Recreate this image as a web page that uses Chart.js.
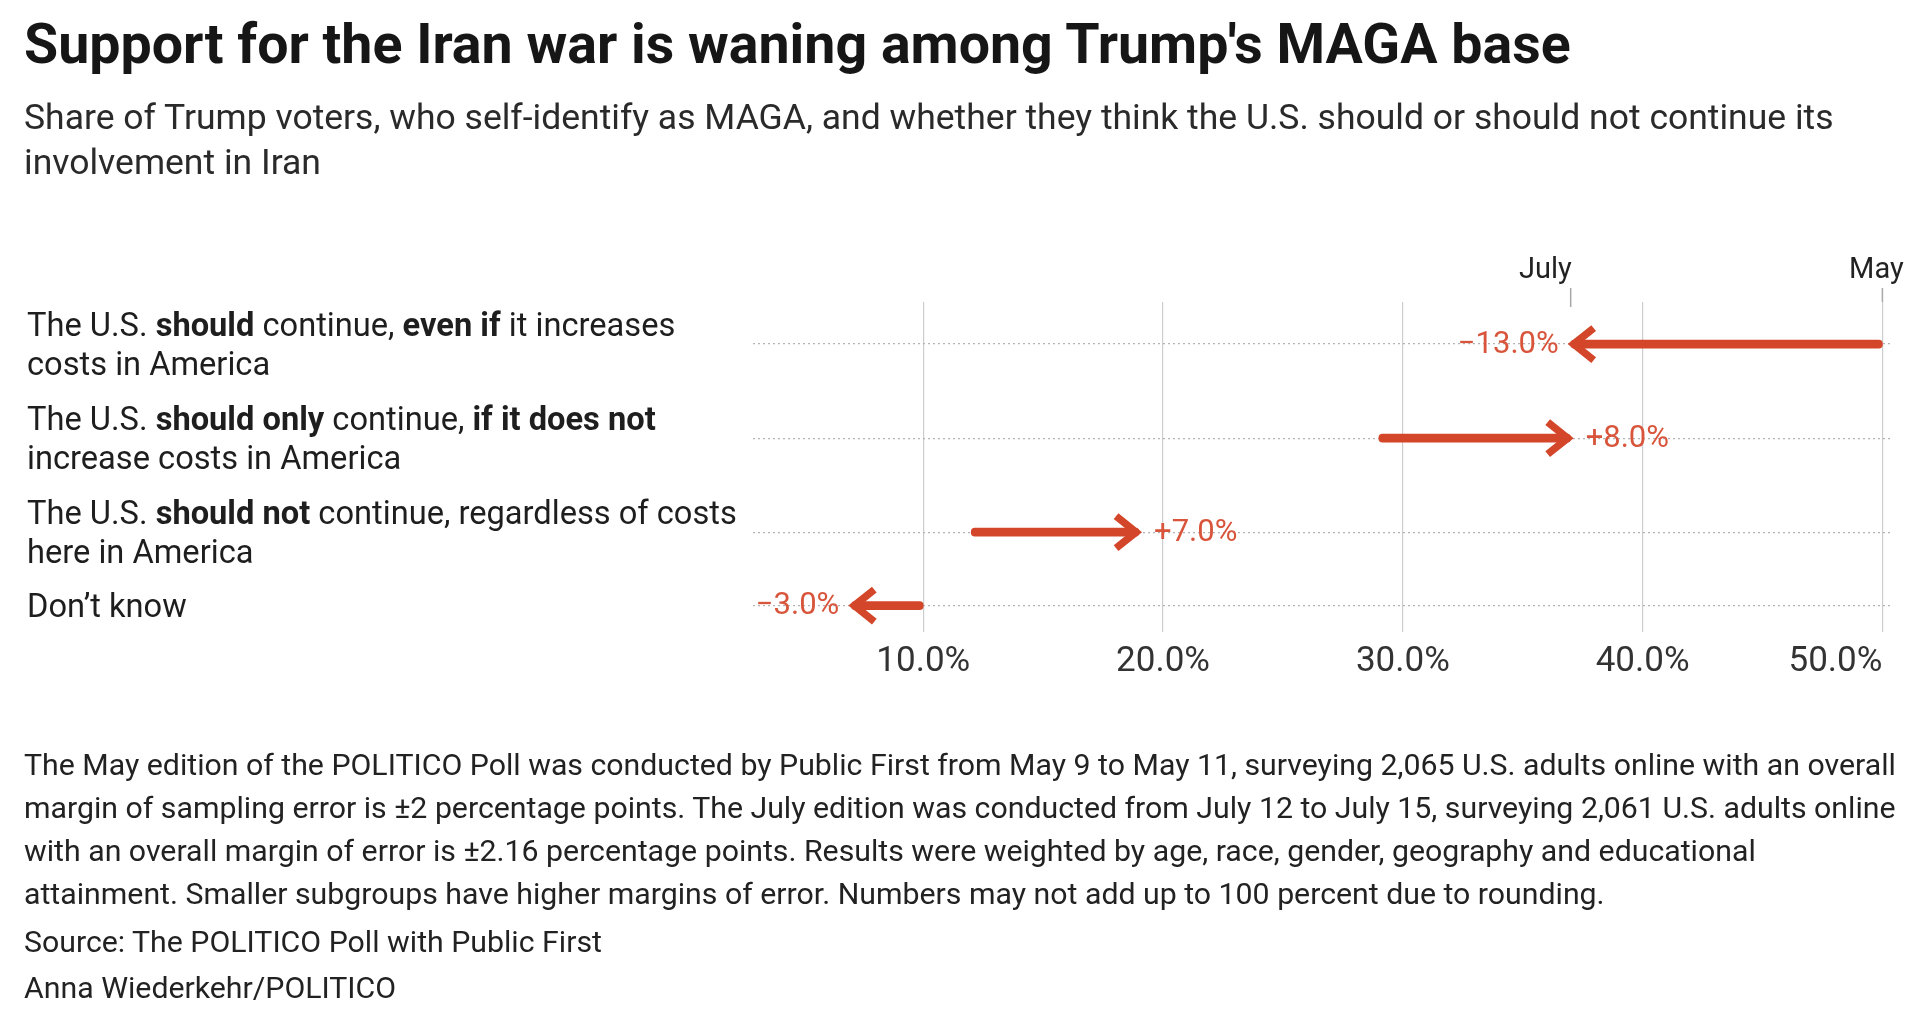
<!DOCTYPE html>
<html>
<head>
<meta charset="utf-8">
<script src="https://cdn.jsdelivr.net/npm/chart.js@4.4.1/dist/chart.umd.min.js"></script>
<style>
html,body{margin:0;padding:0;background:#fff;width:1920px;height:1020px;overflow:hidden;}
#wrap{position:relative;width:1920px;height:1020px;font-family:Roboto,"Liberation Sans",sans-serif;}
canvas{position:absolute;left:0;top:0;}
.t{position:absolute;white-space:nowrap;}
.t b{font-weight:700;}
</style>
</head>
<body>
<div id="wrap"><canvas id="c" width="1920" height="1020"></canvas></div>
<script>
// ---------------- DATA ----------------
const titleText = "Support for the Iran war is waning among Trump's MAGA base";
const subtitleLines = [
  "Share of Trump voters, who self-identify as MAGA, and whether they think the U.S. should or should not continue its",
  "involvement in Iran"
];
const categories = [
  ["The U.S. <b>should</b> continue, <b>even if</b> it increases", "costs in America"],
  ["The U.S. <b>should only</b> continue, <b>if it does not</b>", "increase costs in America"],
  ["The U.S. <b>should not</b> continue, regardless of costs", "here in America"],
  ["Don’t know"]
];
const mayValues  = [50, 29, 12, 10];
const julyValues = [37, 37, 19, 7];
const xTickValues = [10, 20, 30, 40, 50];
const periodLabels = ["May", "July"];
const noteLines = [
  "The May edition of the POLITICO Poll was conducted by Public First from May 9 to May 11, surveying 2,065 U.S. adults online with an overall",
  "margin of sampling error is ±2 percentage points. The July edition was conducted from July 12 to July 15, surveying 2,061 U.S. adults online",
  "with an overall margin of error is ±2.16 percentage points. Results were weighted by age, race, gender, geography and educational",
  "attainment. Smaller subgroups have higher margins of error. Numbers may not add up to 100 percent due to rounding."
];
const sourceText = "Source: The POLITICO Poll with Public First";
const creditText = "Anna Wiederkehr/POLITICO";

// ---------------- STYLE ----------------
const RED = "#d4462a";
const LABEL_RED = "#d8543b";
const FONT = "Roboto";
const ROW_GAP = 0.28;

// row positions derived from label line counts
const rowPos = [];
let acc = 0;
categories.forEach(l => { const h = l.length + ROW_GAP; rowPos.push(acc + h / 2); acc += h; });
const yMax = acc;
const yMin = 0.12;

const arrowPlugin = {
  id: 'arrows',
  beforeDraw(chart) {
    const items = chart.scales.x.getLabelItems();
    if (items.length) items[items.length - 1].options.textAlign = 'right';
  },
  afterDatasetsDraw(chart) {
    const ctx = chart.ctx, xs = chart.scales.x, ys = chart.scales.y, area = chart.chartArea;
    ctx.save();
    mayValues.forEach((m, i) => {
      const j = julyValues[i];
      const dir = Math.sign(j - m);
      const y = ys.getPixelForValue(rowPos[i]);
      const xj = xs.getPixelForValue(j);
      const tip = xj - dir * 3;
      ctx.strokeStyle = RED; ctx.lineWidth = 7.5; ctx.lineJoin = 'miter'; ctx.lineCap = 'butt';
      ctx.beginPath();
      ctx.moveTo(tip - dir * 20, y - 16);
      ctx.lineTo(tip, y);
      ctx.lineTo(tip - dir * 20, y + 16);
      ctx.stroke();
      const d = j - m;
      const txt = (d > 0 ? '+' : '\u2212') + Math.abs(d).toFixed(1) + '%';
      ctx.fillStyle = LABEL_RED;
      ctx.font = '31px ' + FONT;
      ctx.textBaseline = 'middle';
      if (dir < 0) { ctx.textAlign = 'right'; ctx.fillText(txt, xj - 12, y + 1); }
      else { ctx.textAlign = 'left'; ctx.fillText(txt, xj + 15, y + 1); }
    });
    // period labels for first row
    const y0 = area.top;
    const xMay = xs.getPixelForValue(mayValues[0]);
    const xJul = xs.getPixelForValue(julyValues[0]);
    ctx.strokeStyle = '#a8a8a8'; ctx.lineWidth = 1.5;
    ctx.beginPath(); ctx.moveTo(xJul, y0 - 14); ctx.lineTo(xJul, y0 + 5); ctx.stroke();
    ctx.beginPath(); ctx.moveTo(xMay, y0 - 14); ctx.lineTo(xMay, y0); ctx.stroke();
    ctx.fillStyle = '#222'; ctx.font = '29px ' + FONT; ctx.textBaseline = 'alphabetic';
    ctx.textAlign = 'right'; ctx.fillText(periodLabels[1], xJul + 1, y0 - 24);
    ctx.textAlign = 'center'; ctx.fillText(periodLabels[0], xMay - 6, y0 - 24);
    ctx.restore();
  }
};

Chart.defaults.font.family = FONT;
const chart = new Chart(document.getElementById('c'), {
  type: 'bar',
  data: {
    datasets: [{
      data: mayValues.map((m, i) => ({ x: [m, julyValues[i]], y: rowPos[i] })),
      backgroundColor: RED,
      barThickness: 8,
      borderRadius: 4,
      borderSkipped: false
    }]
  },
  options: {
    indexAxis: 'y',
    responsive: false,
    animation: false,
    layout: { padding: { left: 753, right: 28, top: 302, bottom: 328 } },
    plugins: { legend: { display: false }, tooltip: { enabled: false } },
    scales: {
      x: {
        type: 'linear', position: 'bottom', min: 2.9, max: 50.4, offset: false,
        afterBuildTicks: s => { s.ticks = xTickValues.map(v => ({ value: v })); },
        afterFit: s => { s.height = 60; s.paddingLeft = 0; s.paddingRight = 0; },
        grid: { color: '#cdcdcd', lineWidth: 1.2, drawTicks: false, offset: false },
        border: { display: false },
        ticks: { padding: 9, color: '#333', font: { size: 35, family: FONT }, maxRotation: 0, autoSkip: false,
                 callback: v => Number(v).toFixed(1) + '%' }
      },
      y: {
        type: 'linear', reverse: true, min: yMin, max: yMax, offset: false,
        afterBuildTicks: s => { s.ticks = rowPos.map(v => ({ value: v })); },
        afterFit: s => { s.width = 0; s.paddingTop = 0; s.paddingBottom = 0; },
        ticks: { display: false },
        grid: { color: '#b3b3b3', lineWidth: 1.2, drawTicks: false, offset: false },
        border: { display: false, dash: [2, 3] }
      }
    }
  },
  plugins: [arrowPlugin]
});

// ---------------- HTML TEXT ----------------
const wrap = document.getElementById('wrap');
function mk(html, color, weight) {
  const d = document.createElement('div');
  d.className = 't'; d.innerHTML = html;
  d.style.color = color; if (weight) d.style.fontWeight = weight;
  wrap.appendChild(d); return d;
}
function fitSize(el, base, target) {
  el.style.fontSize = base + 'px'; el.style.lineHeight = 'normal';
  const w = el.getBoundingClientRect().width;
  return base * target / w;
}
function place(el, left, baseline, fs, lh) {
  el.style.fontSize = fs + 'px'; el.style.lineHeight = lh + 'px';
  const off = (lh - 1.172 * fs) / 2 + 0.928 * fs;
  el.style.left = left + 'px'; el.style.top = (baseline - off) + 'px';
}

// title
const tEl = mk(titleText, '#161616', 700);
const tFs = fitSize(tEl, 56, 1547);
place(tEl, 24, 64, tFs, tFs * 1.2);

// subtitle
const sEls = subtitleLines.map(s => mk(s, '#2a2a2a', 400));
const sFs = fitSize(sEls[0], 40, 1810);
sEls.forEach((e, i) => place(e, 24, 130 + i * 45, sFs, 45));

// notes
const nEls = noteLines.map(s => mk(s, '#222', 400));
const nFs = fitSize(nEls[0], 29, 1873);
nEls.forEach((e, i) => place(e, 24, 775 + i * 43, nFs, 43));
place(mk(sourceText, '#222', 400), 24, 952, nFs, 43);
place(mk(creditText, '#222', 400), 24, 998, nFs, 43);

// row labels
const labEls = categories.map(lines => lines.map(l => mk(l, '#1e1e1e', 400)));
const lFs = fitSize(labEls[2][0], 29, 710);
const LLH = 38.5;
const ysc = chart.scales.y;
labEls.forEach((lines, i) => {
  const yc = ysc.getPixelForValue(rowPos[i]);
  const capH = 0.711 * lFs;
  const blockH = capH + (lines.length - 1) * LLH;
  const firstBase = yc - blockH / 2 + capH;
  lines.forEach((e, k) => place(e, 27, firstBase + k * LLH, lFs, LLH));
});
</script>
</body>
</html>
